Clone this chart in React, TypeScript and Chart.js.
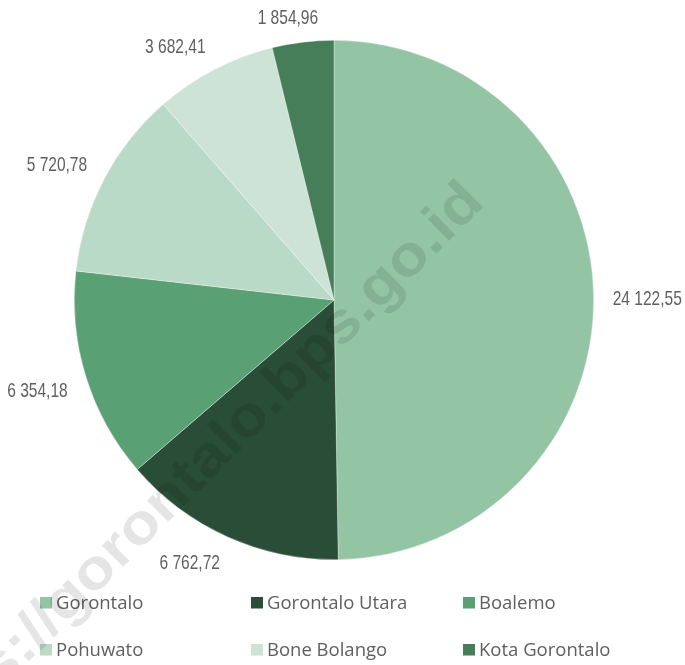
import React, { useEffect, useRef } from "react";
import { Chart, registerables } from "chart.js";

Chart.register(...registerables);

const categories = ["Gorontalo", "Gorontalo Utara", "Boalemo", "Pohuwato", "Bone Bolango", "Kota Gorontalo"];
const values = [24122.55, 6762.72, 6354.18, 5720.78, 3682.41, 1854.96];
const colors = ["#93c4a4", "#2a4d37", "#5aa075", "#b9dac6", "#cce3d6", "#467e5a"];
const watermark = "https://gorontalo.bps.go.id";

const LABEL_FONT = "21px 'Liberation Sans', Arial, sans-serif";
const LABEL_SQUEEZE = 0.74;
const LEGEND_FONT = "18.5px 'Open Sans', 'Noto Sans', sans-serif";
const TEXT_COLOR = "#5f5f5f";

function fmt(v: number): string {
  const [intPart, dec] = v.toFixed(2).split(".");
  const grouped = intPart.replace(/\B(?=(\d{3})+(?!\d))/g, " ");
  return grouped + "," + dec;
}

const clamp = (v: number) => Math.max(-1, Math.min(1, v));

const labelsPlugin = {
  id: "outsideLabels",
  afterDatasetsDraw(chart: any) {
    const ctx = chart.ctx;
    const meta = chart.getDatasetMeta(0);
    const data = chart.data.datasets[0].data as number[];
    ctx.save();
    ctx.font = LABEL_FONT;
    ctx.fillStyle = TEXT_COLOR;
    ctx.textAlign = "center";
    ctx.textBaseline = "alphabetic";
    meta.data.forEach((arc: any, i: number) => {
      const p = arc.getProps(["x", "y", "startAngle", "endAngle", "outerRadius"], true);
      const mid = (p.startAngle + p.endAngle) / 2;
      const dx = Math.cos(mid);
      const dy = Math.sin(mid);
      const txt = fmt(data[i]);
      const w = ctx.measureText(txt).width * LABEL_SQUEEZE;
      const hh = 7;
      const ax = p.x + (p.outerRadius + 19) * dx;
      const ay = p.y + (p.outerRadius + 19) * dy;
      const cx = ax + (w / 2) * clamp(dx * 3.5);
      const cy = ay + hh * clamp(dy * 3.5);
      ctx.save();
      ctx.translate(cx, cy + 7.5);
      ctx.scale(LABEL_SQUEEZE, 1);
      ctx.fillText(txt, 0, 0);
      ctx.restore();
    });
    ctx.restore();
  },
};

const legendPlugin = {
  id: "gridLegend",
  afterDraw(chart: any) {
    const ctx = chart.ctx;
    const labels = chart.data.labels as string[];
    const bg = chart.data.datasets[0].backgroundColor as string[];
    const colX = [40, 251, 463];
    const rowY = [597, 644];
    ctx.save();
    ctx.font = LEGEND_FONT;
    ctx.textAlign = "left";
    ctx.textBaseline = "alphabetic";
    labels.forEach((lab, i) => {
      const c = i % 3;
      const r = Math.floor(i / 3);
      const x = colX[c];
      const y = rowY[r];
      ctx.fillStyle = bg[i];
      ctx.fillRect(x, y, 12, 11.5);
      ctx.fillStyle = TEXT_COLOR;
      ctx.fillText(lab, x + 16, y + 11.5);
    });
    ctx.restore();
  },
};

const watermarkPlugin = {
  id: "watermark",
  afterDraw(chart: any) {
    const ctx = chart.ctx;
    ctx.save();
    ctx.translate(486, 204);
    ctx.rotate(-Math.PI / 4);
    ctx.scale(1.12, 1);
    ctx.font = "bold 57px 'Liberation Sans', Arial, sans-serif";
    ctx.fillStyle = "rgba(0,0,0,0.10)";
    ctx.textAlign = "right";
    ctx.textBaseline = "alphabetic";
    ctx.fillText(watermark, 0, 0);
    ctx.restore();
  },
};

export default function App() {
  const ref = useRef<HTMLCanvasElement | null>(null);
  useEffect(() => {
    if (!ref.current) return;
    const chart = new Chart(ref.current, {
      type: "pie",
      data: {
        labels: categories,
        datasets: [
          {
            data: values,
            backgroundColor: colors,
            borderColor: "rgba(255,255,255,0.55)",
            borderWidth: 0.6,
          },
        ],
      },
      options: {
        responsive: false,
        maintainAspectRatio: false,
        animation: false,
        layout: { padding: { left: 74, right: 91, top: 40, bottom: 105 } },
        plugins: {
          legend: { display: false },
          tooltip: { enabled: false },
        },
      },
      plugins: [labelsPlugin, legendPlugin, watermarkPlugin],
    });
    return () => chart.destroy();
  }, []);
  return (
    <div style={{ position: "absolute", left: 0, top: 0, width: 685, height: 665, background: "#fff" }}>
      <canvas ref={ref} width={685} height={665} style={{ width: 685, height: 665, display: "block" }} />
    </div>
  );
}
